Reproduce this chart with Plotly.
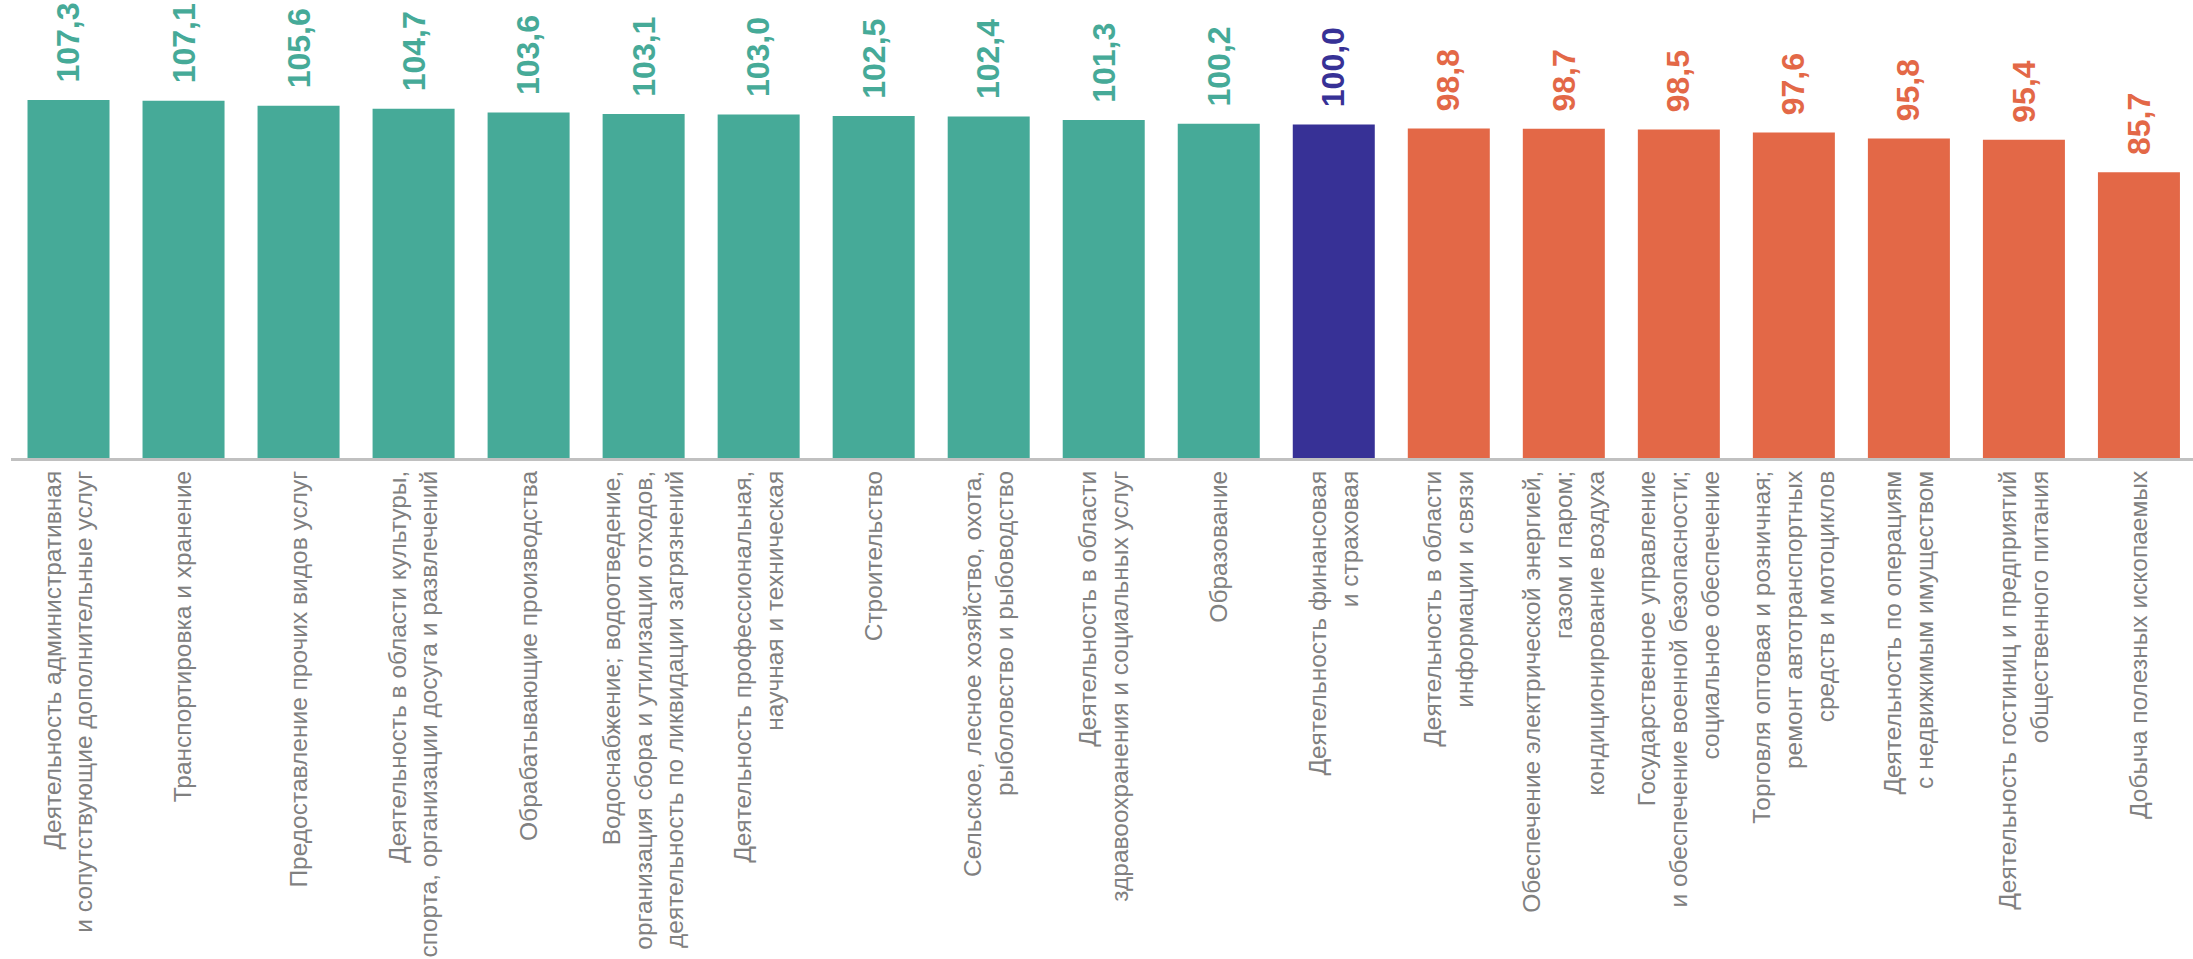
import plotly.graph_objects as go

categories = [
    "Деятельность административная<br>и сопутствующие дополнительные услуг",
    "Транспортировка и хранение",
    "Предоставление прочих видов услуг",
    "Деятельность в области культуры,<br>спорта, организации досуга и развлечений",
    "Обрабатывающие производства",
    "Водоснабжение; водоотведение,<br>организация сбора и утилизации отходов,<br>деятельность по ликвидации загрязнений",
    "Деятельность профессиональная,<br>научная и техническая",
    "Строительство",
    "Сельское, лесное хозяйство, охота,<br>рыболовство и рыбоводство",
    "Деятельность в области<br>здравоохранения и социальных услуг",
    "Образование",
    "Деятельность финансовая<br>и страховая",
    "Деятельность в области<br>информации и связи",
    "Обеспечение электрической энергией,<br>газом и паром;<br>кондиционирование воздуха",
    "Государственное управление<br>и обеспечение военной безопасности;<br>социальное обеспечение",
    "Торговля оптовая и розничная;<br>ремонт автотранспортных<br>средств и мотоциклов",
    "Деятельность по операциям<br>с недвижимым имуществом",
    "Деятельность гостиниц и предприятий<br>общественного питания",
    "Добыча полезных ископаемых",
]
values = [107.3, 107.1, 105.6, 104.7, 103.6, 103.1, 103.0, 102.5, 102.4, 101.3,
          100.2, 100.0, 98.8, 98.7, 98.5, 97.6, 95.8, 95.4, 85.7]
baseline = 100.0

TEAL = "#46AA98"
NAVY = "#373196"
ORANGE = "#E36847"
FONT = "Liberation Sans, Arial, sans-serif"

def color_for(v):
    if v > baseline:
        return TEAL
    if v == baseline:
        return NAVY
    return ORANGE

colors = [color_for(v) for v in values]
labels = [f"{v:.1f}".replace(".", ",") for v in values]

fig = go.Figure()
fig.add_trace(go.Bar(
    x=categories,
    y=values,
    marker=dict(color=colors, line=dict(width=0)),
    hoverinfo="skip",
))

for c, v, t, col in zip(categories, values, labels, colors):
    fig.add_annotation(
        x=c, y=v, text="<b>" + t + "</b>", textangle=-90,
        showarrow=False, xanchor="center", yanchor="bottom",
        yshift=15,
        font=dict(family=FONT, size=32, color=col),
    )

fig.update_layout(
    width=2193, height=959,
    margin=dict(l=11, r=0, t=0, b=501),
    paper_bgcolor="white",
    plot_bgcolor="white",
    bargap=0.287,
    showlegend=False,
    font=dict(family=FONT),
)
fig.update_xaxes(
    type="category",
    range=[-0.5, 18.47],
    tickangle=-90,
    tickfont=dict(family=FONT, size=24.5, color="#808080"),
    showline=True, linecolor="#C0C0C0", linewidth=3,
    showgrid=False, ticks="",
    automargin=False,
    fixedrange=True,
)
fig.update_yaxes(
    range=[0, 137.3],
    visible=False,
    showgrid=False,
    zeroline=False,
    automargin=False,
    fixedrange=True,
)

fig.write_html(
    "out.html",
    config={"displayModeBar": False},
    post_script="document.body.style.margin='0';document.body.style.overflow='hidden';",
)
